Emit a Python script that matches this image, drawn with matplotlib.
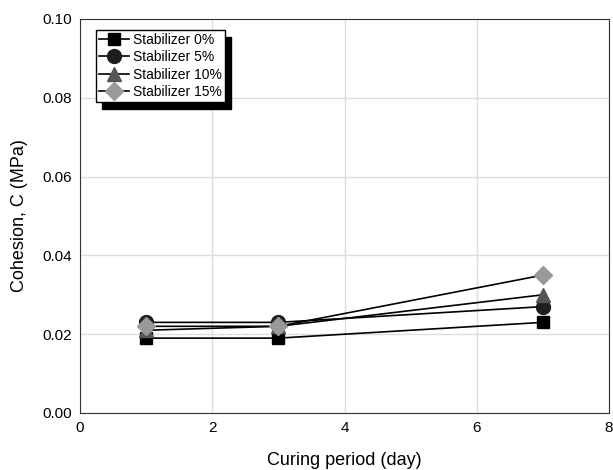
import matplotlib
matplotlib.use('Agg')
import matplotlib.pyplot as plt

days = [1, 3, 7]
labels = ['Stabilizer 0%', 'Stabilizer 5%', 'Stabilizer 10%', 'Stabilizer 15%']
c0 = [0.019, 0.019, 0.023]
c5 = [0.023, 0.023, 0.027]
c10 = [0.021, 0.022, 0.030]
c15 = [0.022, 0.022, 0.035]

series = [c0, c5, c10, c15]
markers = ['s', 'o', '^', 'D']
mcolors = ['#000000', '#1e1e1e', '#555555', '#999999']
msizes = [9, 10, 10, 9]

plt.rcParams['font.family'] = 'Liberation Sans'
fig = plt.figure(figsize=(6.13, 4.70), dpi=100)
ax = fig.add_axes([0.1305, 0.1213, 0.863, 0.8383])

for vals, lab, m, mc, ms in zip(series, labels, markers, mcolors, msizes):
    ax.plot(days, vals, color='black', lw=1.2, marker=m, markersize=ms,
            markerfacecolor=mc, markeredgecolor=mc, label=lab)

ax.set_xlim(0, 8)
ax.set_ylim(0, 0.1)
ax.set_xticks([0, 2, 4, 6, 8])
ax.set_yticks([0, 0.02, 0.04, 0.06, 0.08, 0.10])
ax.set_yticklabels(['0.00', '0.02', '0.04', '0.06', '0.08', '0.10'])
ax.grid(True, color='#dddddd', lw=1)
ax.set_axisbelow(True)
for s in ax.spines.values():
    s.set_color('#333333')
ax.tick_params(length=0, labelsize=11, pad=6)
ax.set_xlabel('Curing period (day)', fontsize=13, labelpad=12)
ax.set_ylabel('Cohesion, C (MPa)', fontsize=13, labelpad=10)

leg = ax.legend(loc='upper left', bbox_to_anchor=(0.03, 0.972), fontsize=10,
                fancybox=False, shadow={'color': 'black', 'alpha': 1, 'ox': 4.5, 'oy': -5},
                edgecolor='black', framealpha=1, handlelength=2.2,
                borderpad=0.2, labelspacing=0.25, handletextpad=0.3,
                borderaxespad=0)
leg.get_frame().set_linewidth(1)

fig.savefig('out.png', dpi=100)
